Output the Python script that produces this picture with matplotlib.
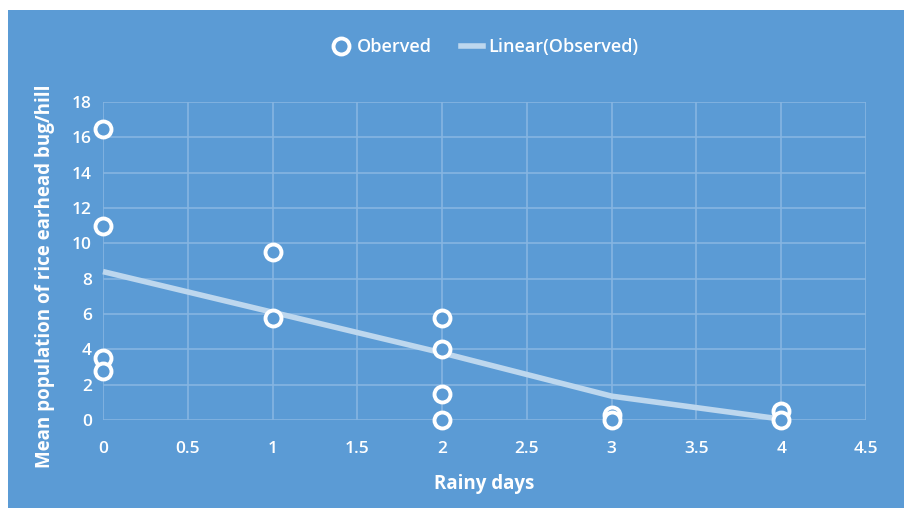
import matplotlib
matplotlib.use("Agg")
import matplotlib.pyplot as plt
from matplotlib.patches import Rectangle
from matplotlib.lines import Line2D

plt.rcParams['font.family'] = ['Open Sans', 'DejaVu Sans']

BG = "#5B9BD5"
GRID = "#86B5E2"
TREND = "#BDD7EE"

# observed points
obs_x = [0, 0, 0, 0, 1, 1, 2, 2, 2, 2, 3, 3, 4, 4]
obs_y = [16.5, 11.0, 3.5, 2.8, 9.5, 5.8, 5.8, 4.0, 1.5, 0.0, 0.3, 0.0, 0.5, 0.0]

# trend line
trend_x = [0, 1, 2, 3, 4]
trend_y = [8.4, 6.1, 3.8, 1.35, 0.05]

x_ticks = [0, 0.5, 1, 1.5, 2, 2.5, 3, 3.5, 4, 4.5]
y_ticks = [0, 2, 4, 6, 8, 10, 12, 14, 16, 18]

fig = plt.figure(figsize=(9.09, 5.18), dpi=100, facecolor="white")
fig.patches.append(Rectangle((8 / 909, 10 / 518), 896 / 909, 498 / 518,
                             transform=fig.transFigure, facecolor=BG,
                             edgecolor="none", zorder=-10))

ax = fig.add_axes([103 / 909, 98 / 518, 763 / 909, 318 / 518])
ax.set_zorder(1)
ax.set_facecolor("none")
ax.set_xlim(0, 4.5)
ax.set_ylim(0, 18)
ax.set_xticks(x_ticks)
ax.set_xticklabels([f"{t:g}" for t in x_ticks])
ax.set_yticks(y_ticks)
ax.grid(True, color=GRID, linewidth=1.2)
ax.set_axisbelow(True)
for s in ax.spines.values():
    s.set_visible(False)
ax.tick_params(length=0, colors="white", labelsize=12.5)
ax.tick_params(axis="x", pad=15)
ax.tick_params(axis="y", pad=8)
for lab in ax.get_xticklabels() + ax.get_yticklabels():
    lab.set_fontweight("semibold")

ax.plot(trend_x, trend_y, color=TREND, linewidth=4, solid_capstyle="butt",
        zorder=3, clip_on=False)
ax.plot(obs_x, obs_y, linestyle="none", marker="o", markersize=11.5,
        markerfacecolor=BG, markeredgecolor="white", markeredgewidth=2.8,
        zorder=4, clip_on=False)

ax.set_xlabel("Rainy days", color="white", fontsize=13.5, fontweight="bold",
              labelpad=12)
ax.set_ylabel("Mean population of rice earhead bug/hill", color="white",
              fontsize=13.5, fontweight="bold")
ax.yaxis.set_label_coords(-0.063, 0.453)

handles = [
    Line2D([], [], linestyle="none", marker="o", markersize=11.5,
           markerfacecolor=BG, markeredgecolor="white", markeredgewidth=2.8),
    Line2D([], [], color=TREND, linewidth=4),
]
leg = fig.legend(handles, ["Oberved", "Linear(Observed)"], loc="center",
                 bbox_to_anchor=(484 / 909, 1 - 47 / 518), ncol=2,
                 frameon=False, handlelength=1.2,
                 handletextpad=0.3, columnspacing=1.6,
                 prop={"weight": "semibold", "size": 13})
for t in leg.get_texts():
    t.set_color("white")

fig.savefig("out.png", dpi=100, facecolor="white")
